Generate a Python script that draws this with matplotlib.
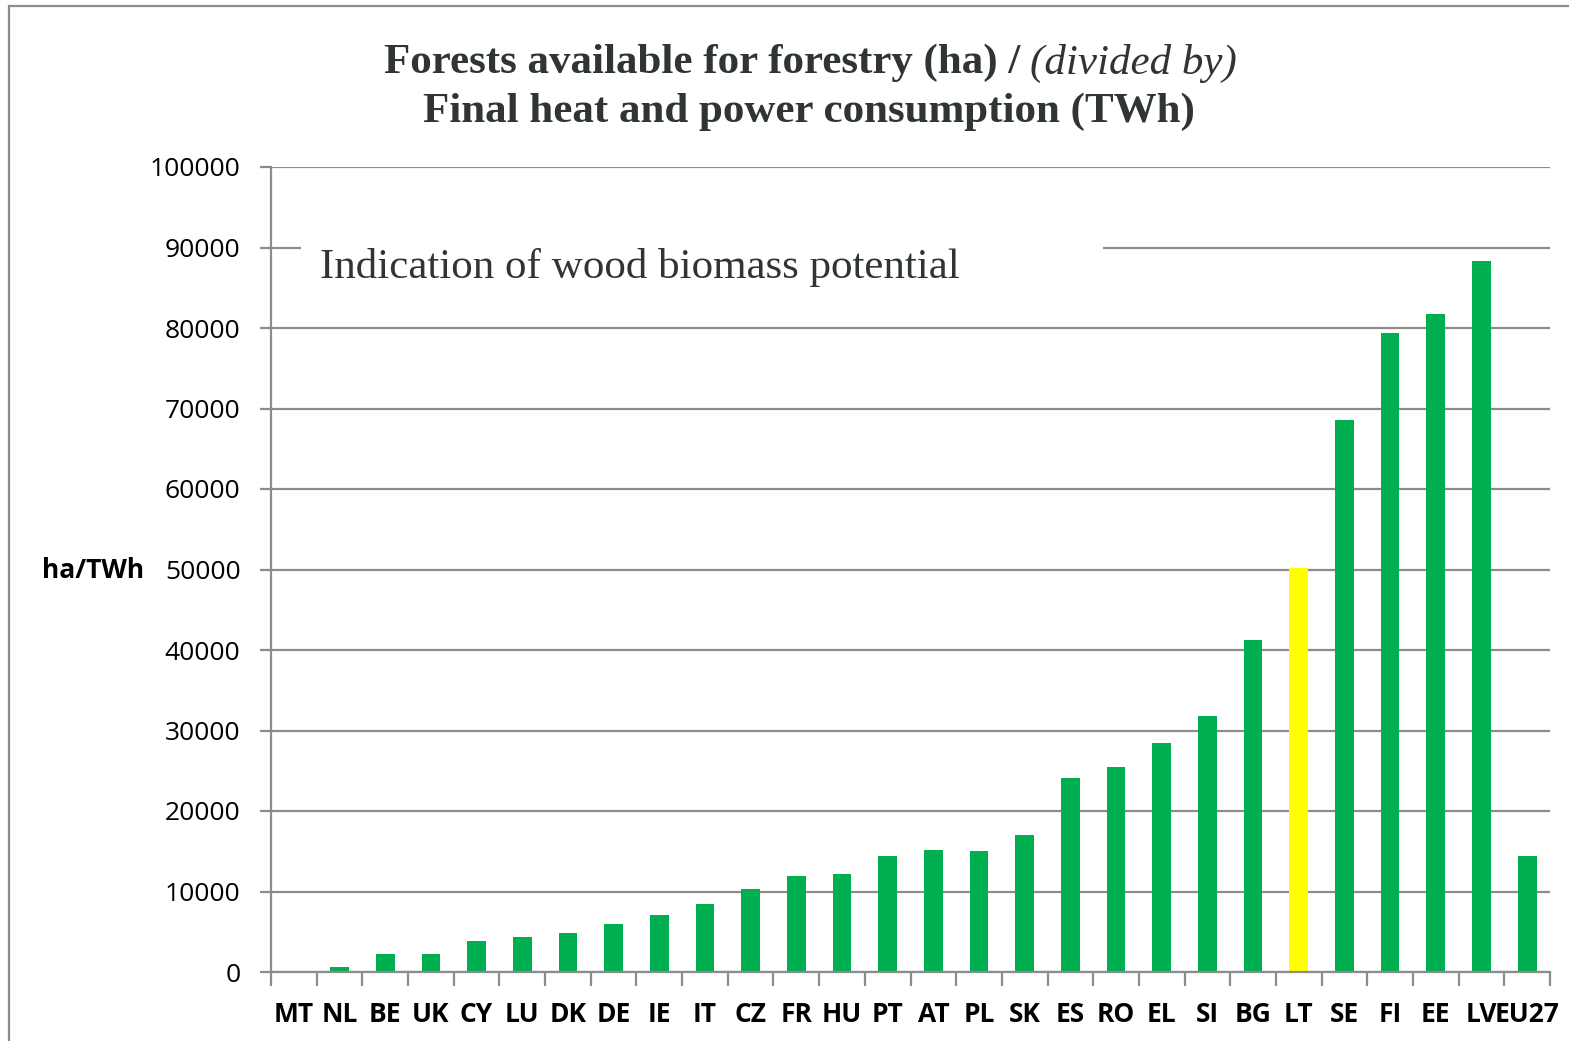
import matplotlib
matplotlib.use("Agg")
import matplotlib.pyplot as plt
from matplotlib.patches import Rectangle
import numpy as np

# ha of forest available for forestry per TWh of final heat and power consumption
countries = ["MT", "NL", "BE", "UK", "CY", "LU", "DK", "DE", "IE", "IT", "CZ", "FR",
             "HU", "PT", "AT", "PL", "SK", "ES", "RO", "EL", "SI", "BG", "LT", "SE",
             "FI", "EE", "LV", "EU27"]
ha_per_twh = [0, 600, 2200, 2200, 3850, 4350, 4850, 5950, 7100, 8450, 10300, 11900,
              12150, 14400, 15150, 15050, 17000, 24100, 25450, 28450, 31850, 41250,
              50200, 68600, 79400, 81700, 88300, 14400]
highlight = "LT"
yticks = np.arange(0, 100001, 10000)

green = "#00B050"
yellow = "#FFFF00"
grid_col = "#8c8c8c"
text_col = "#2f3436"

fig = plt.figure(figsize=(15.69, 10.41), dpi=100)
ax = fig.add_axes([271 / 1569, 69 / 1041, 1279 / 1569, 805 / 1041])

x = np.arange(len(countries))
colors = [yellow if c == highlight else green for c in countries]
ax.bar(x, ha_per_twh, width=0.41, color=colors, zorder=3)

ax.set_xlim(-0.5, len(countries) - 0.5)
ax.set_ylim(0, 100000)
ax.set_yticks(yticks)
ax.set_yticklabels([str(v) for v in yticks], fontfamily="Open Sans", fontsize=19)
ax.yaxis.grid(True, color=grid_col, linewidth=1.6, zorder=0)
ax.tick_params(axis="y", length=8, width=1.6, color=grid_col, pad=14)

# category labels in the middle, tick marks on the boundaries
ax.set_xticks(x)
ax.set_xticklabels(countries, fontfamily="Open Sans", fontweight="bold", fontsize=19)
ax.tick_params(axis="x", length=0, pad=21)
ax.set_xticks(np.arange(-0.5, len(countries)), minor=True)
ax.tick_params(axis="x", which="minor", length=10, width=1.6, color=grid_col)

for side in ["top", "right"]:
    ax.spines[side].set_visible(False)
for side in ["left", "bottom"]:
    ax.spines[side].set_color(grid_col)
    ax.spines[side].set_linewidth(1.6)
ax.spines["bottom"].set_zorder(4)

fig.text(42 / 1569, 1 - 571 / 1041, "ha/TWh", fontfamily="Open Sans",
         fontweight="bold", fontsize=19, ha="left", va="center")

# title: bold part and italic part on the first line
fig.text(1020 / 1569, 1 - 63 / 1041, "Forests available for forestry (ha) /",
         fontfamily="Liberation Serif", fontweight="bold", fontsize=31,
         color=text_col, ha="right", va="center")
fig.text(1030 / 1569, 1 - 63 / 1041, "(divided by)",
         fontfamily="Liberation Serif", fontstyle="italic", fontsize=31,
         color=text_col, ha="left", va="center")
fig.text(809 / 1569, 1 - 112 / 1041, "Final heat and power consumption (TWh)",
         fontfamily="Liberation Serif", fontweight="bold", fontsize=31,
         color=text_col, ha="center", va="center")

# note box sits over the 90000 gridline
ax.add_patch(Rectangle((0.16, 82500), 17.55, 9000, facecolor="white",
                       edgecolor="none", zorder=2))
ax.text(0.57, 87500, "Indication of wood biomass potential",
        fontfamily="Liberation Serif", fontsize=31, color=text_col,
        ha="left", va="center", zorder=3)

# outer frame
fig.patches.append(Rectangle((9 / 1569, -0.1), 1.2, 1 - 6 / 1041 + 0.1,
                             transform=fig.transFigure, fill=False,
                             edgecolor="#8c8c8c", linewidth=1.6))

fig.savefig("out.png", dpi=100, facecolor="white")
